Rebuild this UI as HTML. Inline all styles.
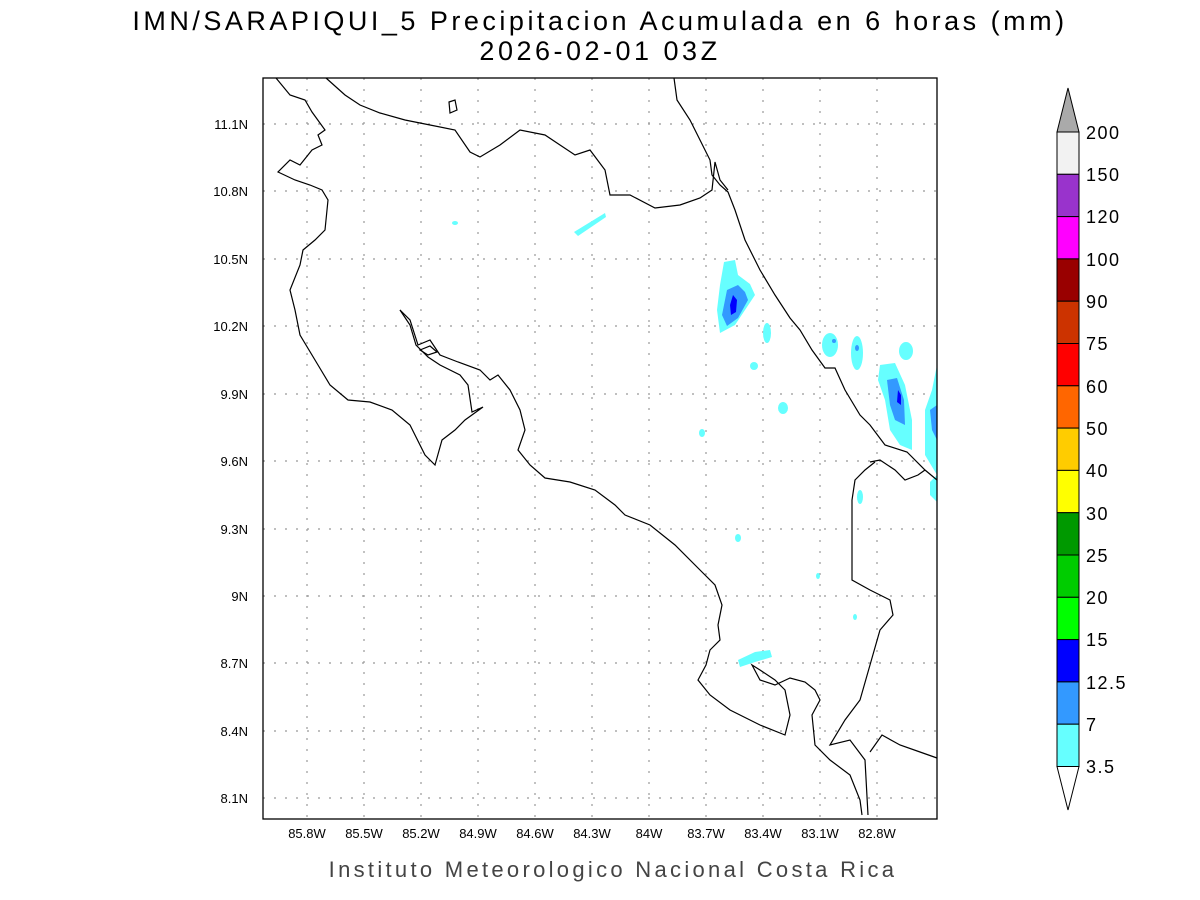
<!DOCTYPE html>
<html><head><style>body{margin:0;background:#fff}svg{display:block}text{font-family:"Liberation Sans",sans-serif}</style></head>
<body>
<svg width="1200" height="900" viewBox="0 0 1200 900" xmlns="http://www.w3.org/2000/svg">
<rect width="1200" height="900" fill="#fff"/>
<text x="600" y="30" font-size="27" text-anchor="middle" fill="#000" letter-spacing="3.5">IMN/SARAPIQUI_5 Precipitacion Acumulada en 6 horas (mm)</text>
<text x="600" y="60" font-size="27" text-anchor="middle" fill="#000" letter-spacing="3.5">2026-02-01 03Z</text>
<g stroke="#999" stroke-width="1.2" stroke-dasharray="2,9">
<line x1="307" y1="78" x2="307" y2="819"/><line x1="364" y1="78" x2="364" y2="819"/><line x1="421" y1="78" x2="421" y2="819"/><line x1="478" y1="78" x2="478" y2="819"/><line x1="535" y1="78" x2="535" y2="819"/><line x1="592" y1="78" x2="592" y2="819"/><line x1="649" y1="78" x2="649" y2="819"/><line x1="706" y1="78" x2="706" y2="819"/><line x1="763" y1="78" x2="763" y2="819"/><line x1="820" y1="78" x2="820" y2="819"/><line x1="877" y1="78" x2="877" y2="819"/>
<line x1="263" y1="124" x2="937" y2="124"/><line x1="263" y1="191" x2="937" y2="191"/><line x1="263" y1="259" x2="937" y2="259"/><line x1="263" y1="326" x2="937" y2="326"/><line x1="263" y1="394" x2="937" y2="394"/><line x1="263" y1="461" x2="937" y2="461"/><line x1="263" y1="529" x2="937" y2="529"/><line x1="263" y1="596" x2="937" y2="596"/><line x1="263" y1="663" x2="937" y2="663"/><line x1="263" y1="731" x2="937" y2="731"/><line x1="263" y1="798" x2="937" y2="798"/>
</g>
<g fill="#66ffff">
<path d="M724,262 L735,260 L738,275 L750,284 L755,295 L745,310 L735,325 L720,333 L717,310 L720,285Z"/>
<ellipse cx="767" cy="333" rx="4" ry="10"/><ellipse cx="754" cy="366" rx="4" ry="4"/><ellipse cx="783" cy="408" rx="5" ry="6"/>
<ellipse cx="830" cy="345" rx="8" ry="12"/><ellipse cx="857" cy="353" rx="6" ry="17"/><ellipse cx="906" cy="351" rx="7" ry="9"/>
<path d="M880,365 L895,363 L905,385 L912,420 L912,450 L900,445 L890,430 L885,400 L878,380Z"/>
<path d="M937,365 L937,475 L925,455 L925,410 L932,390Z"/><path d="M937,475 L937,502 L930,495 L930,482Z"/>
<ellipse cx="860" cy="497" rx="3" ry="7"/><ellipse cx="738" cy="538" rx="3" ry="4"/><ellipse cx="702" cy="433" rx="3" ry="4"/>
<path d="M738,660 L755,652 L770,650 L772,657 L755,662 L740,667Z"/><path d="M574,232 L605,213 L606,217 L578,236Z"/>
<ellipse cx="455" cy="223" rx="3" ry="2"/><ellipse cx="818" cy="576" rx="2" ry="3"/><ellipse cx="855" cy="617" rx="2" ry="3"/>
</g>
<g fill="#3399ff">
<path d="M727,290 L738,285 L745,292 L748,300 L738,318 L727,326 L722,315Z"/>
<path d="M887,380 L897,378 L904,400 L905,425 L895,420 L890,405Z"/>
<path d="M930,410 L937,405 L937,440 L932,430Z"/>
<ellipse cx="834" cy="341" rx="2" ry="2"/><ellipse cx="857" cy="348" rx="2" ry="3"/>
</g>
<g fill="#0000ff"><path d="M733,295 L737,300 L736,312 L731,315 L730,305Z"/><path d="M898,390 L901,395 L901,405 L897,402Z"/></g>
<g fill="none" stroke="#000" stroke-width="1.2">
<polyline points="276,78 290,95 305,100 312,112 325,130 318,135 322,145 312,150 300,165 290,160 278,172 295,180 310,185 322,190 328,200 325,230 315,240 303,250 300,265 290,290 295,310 300,335 318,365 330,385 348,400 370,402 392,410 410,425 425,455 435,465 442,440 455,430 465,420 483,407 472,412 468,385 460,375 440,365 428,357 416,345 410,325 400,310"/>
<polyline points="326,78 345,95 360,105 380,113 405,120 430,125 455,130 470,152 480,157 500,145 520,130 545,135 560,145 575,155 590,150 605,170 610,195 630,195 655,208 680,205 700,198 712,190 715,162 720,180 728,190"/>
<polyline points="674,78 677,100 690,120 700,140 710,160 712,175 720,185 728,192 735,210 745,240 760,270 775,295 790,318 800,330 812,350 825,368 835,368 845,390 860,415 870,425 885,445 907,452 925,470 937,480"/>
<polyline points="400,310 410,320 418,345 430,340 440,355 458,362 480,370 490,380 498,375 510,390 520,410 525,430 518,450 530,465 545,478 570,482 595,490 615,505 625,515 650,525 675,545 700,570 715,585 722,605 718,625 720,640 710,650 706,665 698,680 710,695 730,710 760,725 785,735 790,715 785,690 775,680 760,670 752,665 760,680 775,685 790,678 805,682 815,690 820,700 812,715 815,745 830,760 850,775 860,800 862,815"/>
<polyline points="870,462 880,460 895,470 905,480 918,475 925,470"/>
<polyline points="875,462 865,470 855,480 852,500 852,580 870,590 890,600 893,615 880,630 870,665 860,700 845,720 830,745 850,740 865,760 868,815"/>
<polyline points="870,752 882,735 900,745 920,752 937,758"/>
<polygon points="420,350 430,346 437,352 428,355"/><polygon points="449,102 455,100 457,110 450,113"/>
</g>
<rect x="263" y="78" width="674" height="741" fill="none" stroke="#000" stroke-width="1.3"/>
<g font-size="13" text-anchor="middle">
<text x="307" y="838">85.8W</text><text x="364" y="838">85.5W</text><text x="421" y="838">85.2W</text><text x="478" y="838">84.9W</text><text x="535" y="838">84.6W</text><text x="592" y="838">84.3W</text><text x="649" y="838">84W</text><text x="706" y="838">83.7W</text><text x="763" y="838">83.4W</text><text x="820" y="838">83.1W</text><text x="877" y="838">82.8W</text>
</g>
<g font-size="13" text-anchor="end">
<text x="248" y="129">11.1N</text><text x="248" y="196">10.8N</text><text x="248" y="264">10.5N</text><text x="248" y="331">10.2N</text><text x="248" y="399">9.9N</text><text x="248" y="466">9.6N</text><text x="248" y="534">9.3N</text><text x="248" y="601">9N</text><text x="248" y="668">8.7N</text><text x="248" y="736">8.4N</text><text x="248" y="803">8.1N</text>
</g>
<text x="613" y="877" font-size="22" text-anchor="middle" fill="#444" letter-spacing="3.3">Instituto Meteorologico Nacional Costa Rica</text>
<g stroke="#000" stroke-width="1">
<polygon points="1057,132 1068,88 1079,132" fill="#aaaaaa"/>
<rect x="1057" y="132" width="22" height="42.3" fill="#f2f2f2"/>
<rect x="1057" y="174.3" width="22" height="42.3" fill="#9933cc"/>
<rect x="1057" y="216.6" width="22" height="42.3" fill="#ff00ff"/>
<rect x="1057" y="258.9" width="22" height="42.3" fill="#990000"/>
<rect x="1057" y="301.2" width="22" height="42.3" fill="#cc3300"/>
<rect x="1057" y="343.5" width="22" height="42.3" fill="#ff0000"/>
<rect x="1057" y="385.8" width="22" height="42.3" fill="#ff6600"/>
<rect x="1057" y="428.1" width="22" height="42.3" fill="#ffcc00"/>
<rect x="1057" y="470.4" width="22" height="42.3" fill="#ffff00"/>
<rect x="1057" y="512.7" width="22" height="42.3" fill="#009900"/>
<rect x="1057" y="555" width="22" height="42.3" fill="#00cc00"/>
<rect x="1057" y="597.3" width="22" height="42.3" fill="#00ff00"/>
<rect x="1057" y="639.6" width="22" height="42.3" fill="#0000ff"/>
<rect x="1057" y="681.9" width="22" height="42.3" fill="#3399ff"/>
<rect x="1057" y="724.2" width="22" height="42.3" fill="#66ffff"/>
<polygon points="1057,766.5 1068,810 1079,766.5" fill="#fff"/>
</g>
<g font-size="18" letter-spacing="1.5">
<text x="1086" y="139">200</text><text x="1086" y="181">150</text><text x="1086" y="223">120</text><text x="1086" y="266">100</text><text x="1086" y="308">90</text><text x="1086" y="350">75</text><text x="1086" y="393">60</text><text x="1086" y="435">50</text><text x="1086" y="477">40</text><text x="1086" y="520">30</text><text x="1086" y="562">25</text><text x="1086" y="604">20</text><text x="1086" y="646">15</text><text x="1086" y="689">12.5</text><text x="1086" y="731">7</text><text x="1086" y="773">3.5</text>
</g>
</svg>
</body></html>
